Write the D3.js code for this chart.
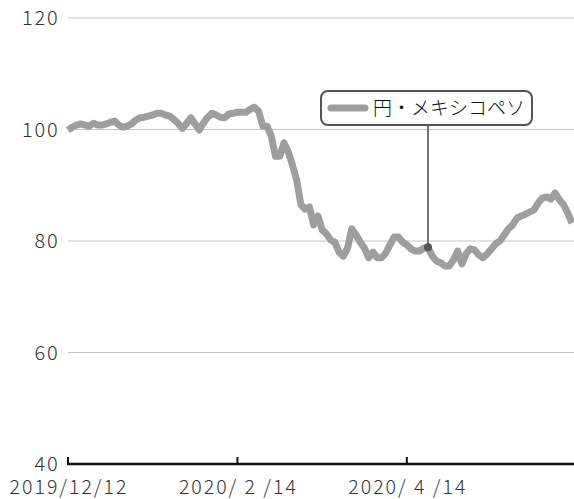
<!DOCTYPE html>
<html>
<head>
<meta charset="utf-8">
<script src="https://cdn.jsdelivr.net/npm/d3@7"></script>
<style>
  body { margin: 0; background: #fff; }
  text { font-family: "Noto Sans CJK JP", "Noto Sans", sans-serif; font-weight: 300; }
</style>
</head>
<body>
<div id="chart"></div>
<script>
// data: JPY/MXN index, one value per Japanese business day
let seriesName = "円・メキシコペソ"
let values = [
  99.9, 100.4, 100.8, 101.0, 100.8, 100.6, 101.1, 100.8, 100.8, 101.0,
  101.3, 101.5, 100.8, 100.4, 100.6, 101.0, 101.7, 102.1, 102.2, 102.4,
  102.6, 102.9, 102.9, 102.6, 102.4, 101.8, 101.1, 100.2, 101.1, 102.1,
  101.0, 99.9, 101.2, 102.2, 102.9, 102.6, 102.2, 102.1, 102.8, 102.9,
  103.1, 103.1, 103.1, 103.6, 104.0, 103.3, 100.6, 100.6, 98.8, 95.2,
  95.2, 97.6, 96.0, 93.6, 90.9, 86.5, 85.7, 86.1, 82.9, 84.5,
  82.0, 81.3, 80.2, 79.8, 78.0, 77.3, 78.7, 82.2, 81.1, 79.8,
  78.7, 77.0, 78.0, 77.0, 77.0, 77.8, 79.3, 80.7, 80.7, 79.8,
  79.3, 78.6, 78.2, 78.2, 78.7, 78.9, 77.3, 76.4, 76.1, 75.5,
  75.5, 76.6, 78.2, 75.9, 77.7, 78.6, 78.4, 77.5, 77.0, 77.7,
  78.6, 79.5, 80.0, 81.1, 82.2, 82.9, 84.1, 84.5, 84.8, 85.2,
  85.6, 86.8, 87.7, 87.9, 87.5, 88.6, 87.4, 86.5, 85.0, 83.2
]
let xTickIndex = [0, 40, 80]
let xTickLabels = ["2019/12/12", "2020/ 2 /14", "2020/ 4 /14"]
let yTicks = [40, 60, 80, 100, 120]
let markerIndex = 85

let width = 574
    height = 499

let svg = d3.select('#chart')
  .append('svg')
    .attr('width', width)
    .attr('height', height)

let x = d3.scaleLinear()
  .domain([0, values.length - 1])
  .range([68, 572])

let y = d3.scaleLinear()
  .domain([40, 120])
  .range([464, 18])

// horizontal grid lines
svg.selectAll('grid')
  .data(yTicks.filter(d => d > 40))
  .enter()
  .append('line')
    .attr('x1', 68)
    .attr('x2', width)
    .attr('y1', d => y(d))
    .attr('y2', d => y(d))
    .attr('stroke', '#c4c4c4')
    .attr('stroke-width', 1)

// y labels (letter-spacing widens the narrow CJK digits)
svg.selectAll('ylabels')
  .data(yTicks)
  .enter()
  .append('text')
    .attr('x', 59.5)
    .attr('y', d => y(d))
    .attr('dy', '0.36em')
    .attr('text-anchor', 'end')
    .attr('font-size', 20)
    .attr('letter-spacing', 1.8)
    .attr('fill', '#333')
    .text(d => d)

// x axis baseline with upward ticks
svg.append('line')
  .attr('x1', 67)
  .attr('x2', width)
  .attr('y1', y(40))
  .attr('y2', y(40))
  .attr('stroke', '#111')
  .attr('stroke-width', 2.5)

svg.selectAll('xticks')
  .data(xTickIndex)
  .enter()
  .append('line')
    .attr('x1', d => x(d))
    .attr('x2', d => x(d))
    .attr('y1', y(40))
    .attr('y2', y(40) - 7)
    .attr('stroke', '#111')
    .attr('stroke-width', 2)

svg.selectAll('xlabels')
  .data(xTickIndex)
  .enter()
  .append('text')
    .attr('x', d => x(d) + 1)
    .attr('y', 494)
    .attr('text-anchor', 'middle')
    .attr('font-size', 19.5)
    .attr('letter-spacing', 2)
    .attr('fill', '#333')
    .text((d, i) => xTickLabels[i])

// the series line
let line = d3.line()
  .x((d, i) => x(i))
  .y(d => y(d))

svg.append('path')
  .datum(values)
  .attr('d', line)
  .attr('fill', 'none')
  .attr('stroke', '#9d9e9d')
  .attr('stroke-width', 7)
  .attr('stroke-linejoin', 'round')

// callout: leader line, dot and legend box
let mx = x(markerIndex)
    my = y(values[markerIndex])

svg.append('line')
  .attr('x1', mx)
  .attr('x2', mx)
  .attr('y1', 125)
  .attr('y2', my)
  .attr('stroke', '#666')
  .attr('stroke-width', 1.8)

svg.append('circle')
  .attr('cx', mx)
  .attr('cy', my)
  .attr('r', 4)
  .attr('fill', '#555')

svg.append('rect')
  .attr('x', 321)
  .attr('y', 91)
  .attr('width', 211)
  .attr('height', 34)
  .attr('rx', 7)
  .attr('fill', '#fff')
  .attr('stroke', '#555')
  .attr('stroke-width', 2)

svg.append('line')
  .attr('x1', 331)
  .attr('x2', 365)
  .attr('y1', 108)
  .attr('y2', 108)
  .attr('stroke', '#9d9e9d')
  .attr('stroke-width', 7)
  .attr('stroke-linecap', 'round')

svg.append('text')
  .attr('x', 373)
  .attr('y', 108)
  .attr('dy', '0.36em')
  .attr('font-size', 19)
  .attr('fill', '#111')
  .text(seriesName)
</script>
</body>
</html>
